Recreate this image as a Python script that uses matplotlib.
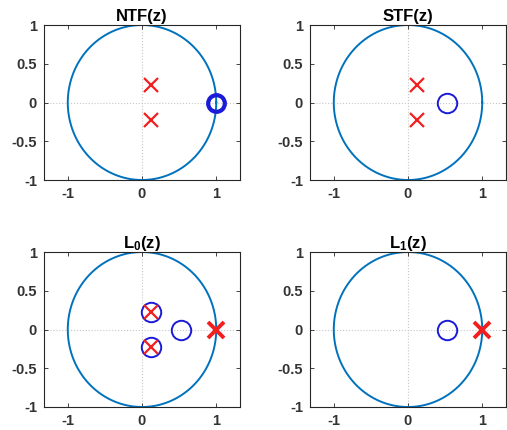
import numpy as np
import matplotlib
matplotlib.use("Agg")
import matplotlib.pyplot as plt

plt.rcParams['font.family'] = ['Liberation Sans', 'DejaVu Sans']
plt.rcParams['font.weight'] = 'bold'
plt.rcParams['mathtext.fontset'] = 'custom'
plt.rcParams['mathtext.rm'] = 'Liberation Sans:bold'
plt.rcParams['mathtext.bf'] = 'Liberation Sans:bold'
plt.rcParams['mathtext.it'] = 'Liberation Sans:bold'

titles = ['NTF(z)', 'STF(z)', r'L$_\mathbf{0}$(z)', r'L$_\mathbf{1}$(z)']

# zeros (circles) and poles (crosses): real, imag parts
ntf_zeros_re = [1.0]
ntf_zeros_im = [0.0]
ntf_poles_re = [0.12, 0.12]
ntf_poles_im = [0.23, -0.23]

stf_zeros_re = [0.53]
stf_zeros_im = [0.0]
stf_poles_re = [0.12, 0.12]
stf_poles_im = [0.23, -0.23]

l0_zeros_re = [0.12, 0.12, 0.53]
l0_zeros_im = [0.23, -0.23, 0.0]
l0_poles_re = [0.12, 0.12, 1.0]
l0_poles_im = [0.23, -0.23, 0.0]

l1_zeros_re = [0.53]
l1_zeros_im = [0.0]
l1_poles_re = [1.0]
l1_poles_im = [0.0]

panels = [
    (ntf_zeros_re, ntf_zeros_im, ntf_poles_re, ntf_poles_im),
    (stf_zeros_re, stf_zeros_im, stf_poles_re, stf_poles_im),
    (l0_zeros_re, l0_zeros_im, l0_poles_re, l0_poles_im),
    (l1_zeros_re, l1_zeros_im, l1_poles_re, l1_poles_im),
]

x_ticks = [-1, 0, 1]
y_ticks = [-1, -0.5, 0, 0.5, 1]
y_ticklabels = ['-1', '-0.5', '0', '0.5', '1']

W, H = 507, 430
fig = plt.figure(figsize=(W / 100, H / 100), dpi=100)
positions = [
    (44, 25, 240, 180),
    (310, 25, 506, 180),
    (44, 252, 240, 407),
    (310, 252, 506, 407),
]

dark = (0.15, 0.15, 0.15)
circ_color = (0.0, 0.447, 0.741)
theta = np.linspace(0, 2 * np.pi, 400)

for i, (pos, title, (zr, zi, pr, pi_)) in enumerate(zip(positions, titles, panels)):
    l, t, r, b = pos
    ax = fig.add_axes([l / W, 1 - b / H, (r - l) / W, (b - t) / H])
    ax.axhline(0, color=(0.78, 0.78, 0.78), lw=0.8, ls=':', zorder=1)
    ax.axvline(0, color=(0.78, 0.78, 0.78), lw=0.8, ls=':', zorder=1)
    ax.plot(np.cos(theta), np.sin(theta), color=circ_color, lw=1.4, zorder=2)
    thick = (i == 0)
    ax.plot(zr, zi, 'o', mfc='none', mec=(0.1, 0.1, 0.85),
            ms=12 if thick else 14, mew=3 if thick else 1.4, zorder=3)
    for x, y in zip(pr, pi_):
        on_circle = abs(x - 1.0) < 1e-9
        ax.plot([x], [y], 'x', color=(0.95, 0.12, 0.12),
                ms=12 if on_circle else 10, mew=2.8 if on_circle else 1.6, zorder=4)
    ax.set_xlim(-1.32, 1.32)
    ax.set_ylim(-1, 1)
    ax.set_xticks(x_ticks)
    ax.set_xticklabels([str(v) for v in x_ticks])
    ax.set_yticks(y_ticks)
    ax.set_yticklabels(y_ticklabels)
    ax.tick_params(direction='in', top=True, right=True, length=3, width=0.6,
                   colors=dark, labelsize=10.5, pad=5)
    for lab in ax.get_xticklabels() + ax.get_yticklabels():
        lab.set_fontweight('bold')
        lab.set_color((0.2, 0.2, 0.2))
    for s in ax.spines.values():
        s.set_color(dark)
        s.set_linewidth(0.8)
    ax.set_title(title, fontsize=12, fontweight='bold', color='black', pad=3)

fig.savefig('out.png', dpi=100)
